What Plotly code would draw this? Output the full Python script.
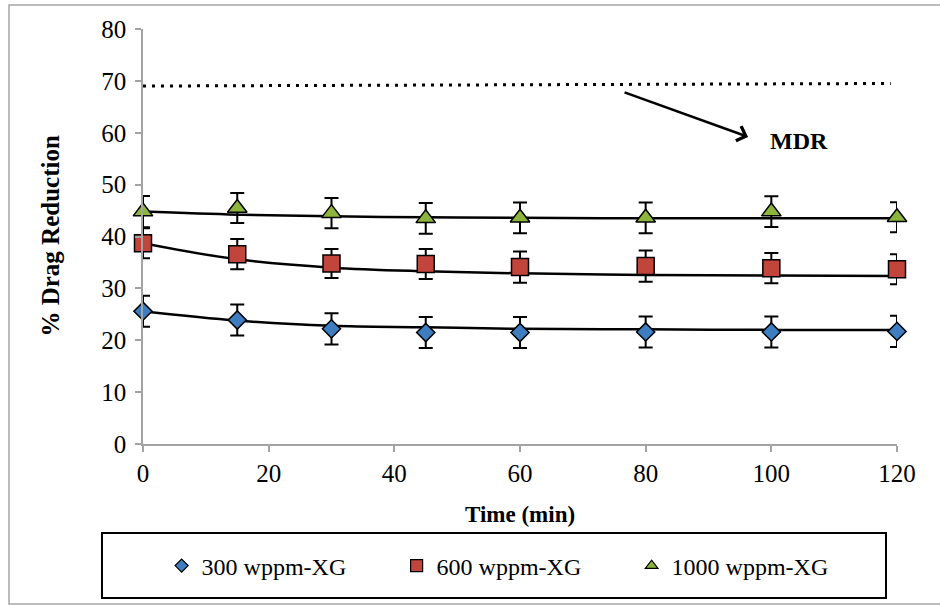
import plotly.graph_objects as go

# Sampling times (min)
time_min = [0, 15, 30, 45, 60, 80, 100, 120]

# Mean % drag reduction and error for each xanthan gum concentration
dr_300 = [25.6, 23.9, 22.2, 21.5, 21.5, 21.6, 21.6, 21.7]
err_300 = [3.0, 3.0, 3.0, 3.0, 3.0, 3.0, 3.0, 3.0]
dr_600 = [38.7, 36.6, 34.8, 34.7, 34.1, 34.3, 33.9, 33.7]
err_600 = [2.9, 2.9, 2.8, 2.9, 3.0, 3.0, 2.9, 2.9]
dr_1000 = [44.8, 45.5, 44.5, 43.5, 43.6, 43.6, 44.8, 43.7]
err_1000 = [3.0, 2.9, 2.9, 2.95, 2.95, 2.95, 2.95, 2.9]

# Trend curves through each series
trend_300 = [25.6, 23.8, 22.8, 22.5, 22.2, 22.1, 22.0, 22.0]
trend_600 = [38.7, 35.6, 34.0, 33.3, 32.9, 32.6, 32.5, 32.4]
trend_1000 = [44.8, 44.2, 43.9, 43.7, 43.6, 43.5, 43.5, 43.5]

# Maximum drag reduction asymptote
mdr_x = [0, 119]
mdr_y = [69.0, 69.5]

series_names = ["300 wppm-XG", "600 wppm-XG", "1000 wppm-XG"]
x_ticks = [0, 20, 40, 60, 80, 100, 120]
y_ticks = [0, 10, 20, 30, 40, 50, 60, 70, 80]

FONT = "Liberation Serif"
colors = ["#3d7dc0", "#c2453b", "#8db53e"]
symbols = ["diamond", "square", "triangle-up"]
sizes = [14, 17, 17]
legend_sizes = [10, 12, 11]

fig = go.Figure()

# MDR dotted line
fig.add_trace(go.Scatter(
    x=mdr_x, y=mdr_y, mode="lines", showlegend=False, hoverinfo="skip",
    line=dict(color="black", width=3, dash="3px,6px"),
))

# Trend curves
for trend in (trend_300, trend_600, trend_1000):
    fig.add_trace(go.Scatter(
        x=time_min, y=trend, mode="lines", showlegend=False,
        line=dict(color="black", width=2.5, shape="spline", smoothing=1.0),
    ))

# Measured points with error bars
for vals, errs, c, s, sz in zip((dr_300, dr_600, dr_1000),
                                (err_300, err_600, err_1000),
                                colors, symbols, sizes):
    fig.add_trace(go.Scatter(
        x=time_min, y=vals, mode="markers", showlegend=False, cliponaxis=False,
        marker=dict(symbol=s, size=sz, color=c, line=dict(color="black", width=1.5)),
        error_y=dict(type="data", array=errs, visible=True, color="black",
                     thickness=2, width=7),
    ))

# Legend entries
for name, c, s, sz in zip(series_names, colors, symbols, legend_sizes):
    fig.add_trace(go.Scatter(
        x=[None], y=[None], mode="markers", name=name,
        marker=dict(symbol=s, size=sz, color=c, line=dict(color="black", width=1.2)),
    ))

axis_common = dict(
    showgrid=False, zeroline=False, showline=True,
    linecolor="#a3a3a3", linewidth=1.5,
    ticks="outside", ticklen=6, tickwidth=1.5, tickcolor="#a3a3a3",
    tickfont=dict(family=FONT, size=25, color="black"),
)

fig.update_xaxes(range=[0, 120], tickvals=x_ticks, **axis_common)
fig.update_yaxes(range=[0, 80], tickvals=y_ticks, ticklabelstandoff=4, **axis_common)

fig.update_layout(
    width=940, height=605,
    margin=dict(l=143, r=43, t=29, b=161),
    paper_bgcolor="white", plot_bgcolor="white",
    font=dict(family=FONT, color="black"),
    legend=dict(
        orientation="h", x=0.0247, xanchor="left", y=-0.294, yanchor="middle",
        font=dict(family=FONT, size=24, color="black"),
        entrywidth=190, bgcolor="rgba(0,0,0,0)",
    ),
    shapes=[
        # outer chart frame
        dict(type="rect", xref="paper", yref="paper",
             x0=-0.1777, x1=1.07, y0=-0.3855, y1=1.0578,
             line=dict(color="#a6a6a6", width=1.5), layer="below"),
        # legend frame
        dict(type="rect", xref="paper", yref="paper",
             x0=-0.0544, x1=0.9854, y0=-0.371, y1=-0.2145,
             line=dict(color="black", width=2)),
    ],
    annotations=[
        dict(text="<b>% Drag Reduction</b>", xref="paper", yref="paper",
             x=-0.1233, y=0.5, xanchor="center", yanchor="middle",
             textangle=-90, showarrow=False,
             font=dict(family=FONT, size=25, color="black")),
        dict(text="<b>Time (min)</b>", xref="paper", yref="paper",
             x=0.5, y=-0.171, xanchor="center", yanchor="middle",
             showarrow=False,
             font=dict(family=FONT, size=23, color="black")),
        dict(text="<b>MDR</b>", xref="x", yref="y", x=104.4, y=58.4,
             xanchor="center", yanchor="middle",
             showarrow=False, font=dict(family=FONT, size=24, color="black")),
        dict(text="", xref="x", yref="y", x=96.3, y=59.2,
             axref="x", ayref="y", ax=76.4, ay=67.9,
             showarrow=True, arrowhead=4, arrowsize=1.2, arrowwidth=2.5,
             arrowcolor="black"),
    ],
)

fig.write_html("out.html")
